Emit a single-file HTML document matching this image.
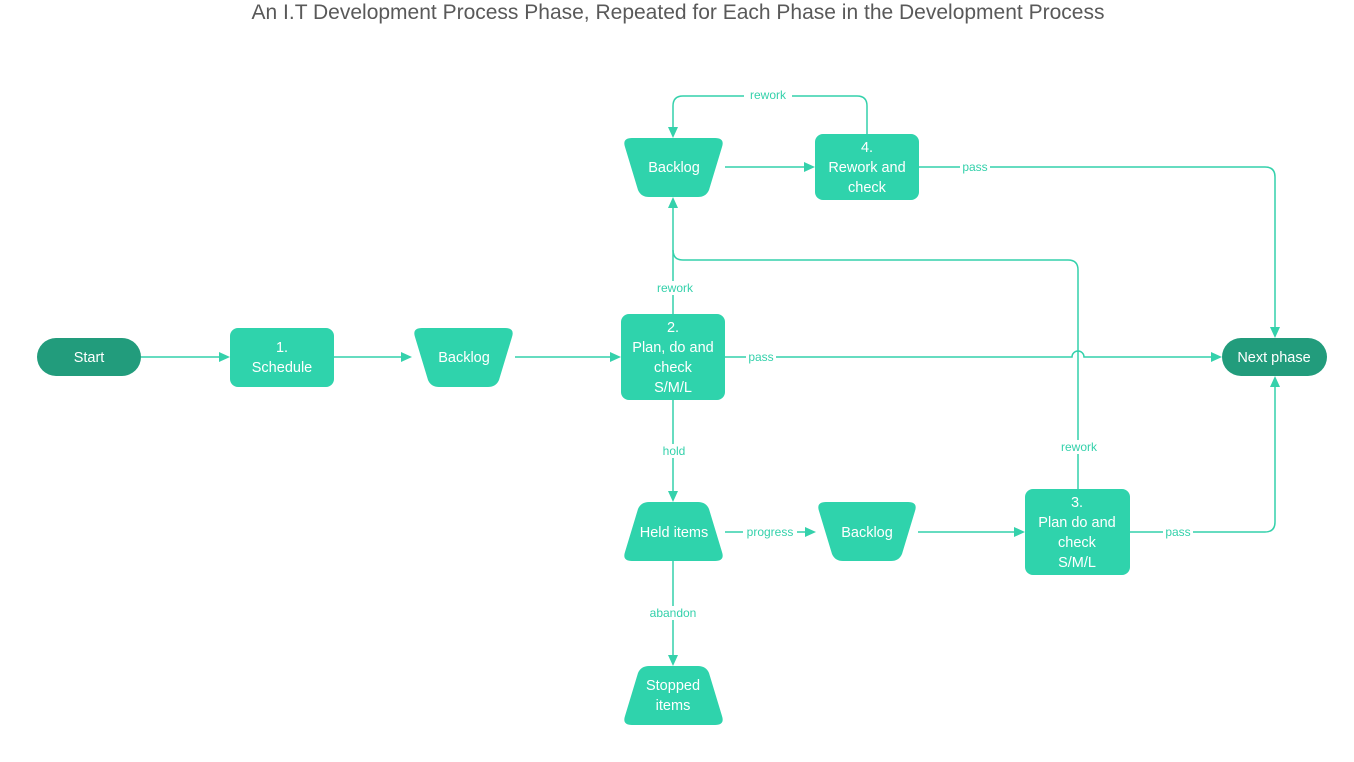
<!DOCTYPE html>
<html><head><meta charset="utf-8"><style>
body{margin:0;background:#fff;}
svg{display:block;font-family:"Liberation Sans",sans-serif;}
.n{fill:#2fd3ac;}
.d{fill:#229c7c;}
.t{fill:#fff;font-size:14.5px;text-anchor:middle;}
.l{fill:#34d1ab;font-size:12px;text-anchor:middle;}
.e{fill:none;stroke:#34d1ab;stroke-width:1.5;}
.a{fill:#34d1ab;}
</style></head><body>
<svg width="1354" height="762" viewBox="0 0 1354 762">
<text x="678" y="19" text-anchor="middle" font-size="21" fill="#595959">An I.T Development Process Phase, Repeated for Each Phase in the Development Process</text>

<!-- edges -->
<path class="e" d="M141 357 H222"/><polygon class="a" points="230,357 219,352 219,362"/>
<path class="e" d="M334 357 H404"/><polygon class="a" points="412,357 401,352 401,362"/>
<path class="e" d="M515 357 H613"/><polygon class="a" points="621,357 610,352 610,362"/>
<path class="e" d="M725 357 H1072 A6 6 0 0 1 1084 357 H1214"/><polygon class="a" points="1222,357 1211,352 1211,362"/>
<path class="e" d="M673 314 V205"/><polygon class="a" points="673,197 668,208 678,208"/>
<path class="e" d="M1078 489 V270 Q1078 260 1068 260 H683 Q673 260 673 250"/>
<path class="e" d="M725 167 H807"/><polygon class="a" points="815,167 804,162 804,172"/>
<path class="e" d="M867 134 V106 Q867 96 857 96 H683 Q673 96 673 106 V130"/><polygon class="a" points="673,138 668,127 678,127"/>
<path class="e" d="M919 167 H1265 Q1275 167 1275 177 V330"/><polygon class="a" points="1275,338 1270,327 1280,327"/>
<path class="e" d="M673 400 V494"/><polygon class="a" points="673,502 668,491 678,491"/>
<path class="e" d="M725 532 H808"/><polygon class="a" points="816,532 805,527 805,537"/>
<path class="e" d="M918 532 H1017"/><polygon class="a" points="1025,532 1014,527 1014,537"/>
<path class="e" d="M1130 532 H1265 Q1275 532 1275 522 V384"/><polygon class="a" points="1275,376 1270,387 1280,387"/>
<path class="e" d="M673 561 V658"/><polygon class="a" points="673,666 668,655 678,655"/>

<!-- edge labels -->
<g>
<rect x="744" y="88" width="48" height="14" fill="#fff"/><text class="l" x="768" y="99">rework</text>
<rect x="651" y="281" width="48" height="14" fill="#fff"/><text class="l" x="675" y="292">rework</text>
<rect x="1055" y="440" width="48" height="14" fill="#fff"/><text class="l" x="1079" y="451">rework</text>
<rect x="746" y="350" width="30" height="14" fill="#fff"/><text class="l" x="761" y="361">pass</text>
<rect x="960" y="160" width="30" height="14" fill="#fff"/><text class="l" x="975" y="171">pass</text>
<rect x="1163" y="525" width="30" height="14" fill="#fff"/><text class="l" x="1178" y="536">pass</text>
<rect x="658" y="444" width="32" height="14" fill="#fff"/><text class="l" x="674" y="455">hold</text>
<rect x="743" y="525" width="54" height="14" fill="#fff"/><text class="l" x="770" y="536">progress</text>
<rect x="646" y="606" width="54" height="14" fill="#fff"/><text class="l" x="673" y="617">abandon</text>
</g>

<!-- nodes -->
<rect class="d" x="37" y="338" width="104" height="38" rx="19"/><text class="t" x="89" y="362">Start</text>
<rect class="d" x="1222" y="338" width="105" height="38" rx="19"/><text class="t" x="1274" y="362">Next phase</text>
<rect class="n" x="230" y="328" width="104" height="59" rx="8"/><text class="t" x="282" y="352">1.</text><text class="t" x="282" y="372">Schedule</text>
<rect class="n" x="621" y="314" width="104" height="86" rx="8"/>
<text class="t" x="673" y="332">2.</text><text class="t" x="673" y="352">Plan, do and</text><text class="t" x="673" y="372">check</text><text class="t" x="673" y="392">S/M/L</text>
<rect class="n" x="815" y="134" width="104" height="66" rx="8"/>
<text class="t" x="867" y="152">4.</text><text class="t" x="867" y="172">Rework and</text><text class="t" x="867" y="192">check</text>
<rect class="n" x="1025" y="489" width="105" height="86" rx="8"/>
<text class="t" x="1077" y="507">3.</text><text class="t" x="1077" y="527">Plan do and</text><text class="t" x="1077" y="547">check</text><text class="t" x="1077" y="567">S/M/L</text>

<!-- backlogs (wide top) -->
<path class="n" d="M422 328 L505 328 Q515 328 512 337 L499 380 Q496 387 488 387 L439 387 Q431 387 428 380 L415 337 Q412 328 422 328 Z"/><text class="t" x="464" y="362">Backlog</text>
<path class="n" d="M632 138 L715 138 Q725 138 722 147 L709 190 Q706 197 698 197 L649 197 Q641 197 638 190 L625 147 Q622 138 632 138 Z"/><text class="t" x="674" y="172">Backlog</text>
<path class="n" d="M826 502 L908 502 Q918 502 915 511 L902 554 Q899 561 891 561 L843 561 Q835 561 832 554 L819 511 Q816 502 826 502 Z"/><text class="t" x="867" y="537">Backlog</text>

<!-- inverted -->
<path class="n" d="M649 502 L698 502 Q706 502 709 509 L722 552 Q725 561 715 561 L632 561 Q622 561 625 552 L638 509 Q641 502 649 502 Z"/><text class="t" x="674" y="537">Held items</text>
<path class="n" d="M649 666 L698 666 Q706 666 709 673 L722 716 Q725 725 715 725 L632 725 Q622 725 625 716 L638 673 Q641 666 649 666 Z"/><text class="t" x="673" y="690">Stopped</text><text class="t" x="673" y="710">items</text>
</svg>
</body></html>
